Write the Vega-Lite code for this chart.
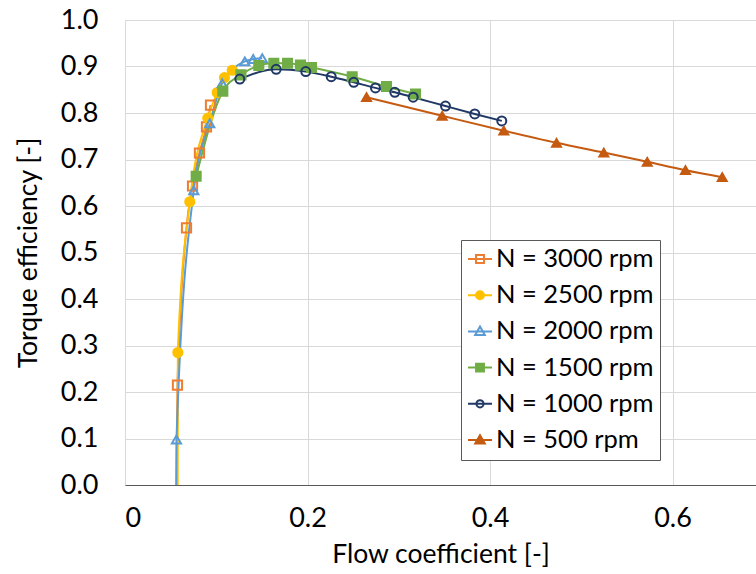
{
  "$schema": "https://vega.github.io/schema/vega-lite/v6.json",
  "autosize": {"type": "none"},
  "padding": {"left": 125, "top": 20, "right": 0, "bottom": 89},
  "width": 631,
  "height": 465,
  "background": "white",
  "config": {
    "view": {"stroke": null},
    "font": "Lato",
    "axis": {"labelFont": "Lato", "titleFont": "Lato", "labelColor": "#000000", "titleColor": "#000000", "titleFontWeight": "normal"},
    "legend": {"labelFont": "Lato"}
  },
  "data": {
    "values": [
      {"s": "N = 3000 rpm", "x": 0.0555, "y": -0.2},
      {"s": "N = 3000 rpm", "x": 0.0575, "y": 0.215},
      {"s": "N = 3000 rpm", "x": 0.0674, "y": 0.553},
      {"s": "N = 3000 rpm", "x": 0.0740, "y": 0.643},
      {"s": "N = 3000 rpm", "x": 0.0816, "y": 0.714},
      {"s": "N = 3000 rpm", "x": 0.0893, "y": 0.770},
      {"s": "N = 3000 rpm", "x": 0.0937, "y": 0.817},
      {"s": "N = 2500 rpm", "x": 0.0577, "y": -0.2},
      {"s": "N = 2500 rpm", "x": 0.0579, "y": 0.285},
      {"s": "N = 2500 rpm", "x": 0.0710, "y": 0.609},
      {"s": "N = 2500 rpm", "x": 0.0907, "y": 0.789},
      {"s": "N = 2500 rpm", "x": 0.1010, "y": 0.844},
      {"s": "N = 2500 rpm", "x": 0.1090, "y": 0.876},
      {"s": "N = 2500 rpm", "x": 0.1175, "y": 0.892},
      {"s": "N = 2000 rpm", "x": 0.0558, "y": -0.2},
      {"s": "N = 2000 rpm", "x": 0.0564, "y": 0.098},
      {"s": "N = 2000 rpm", "x": 0.0754, "y": 0.634},
      {"s": "N = 2000 rpm", "x": 0.0929, "y": 0.778},
      {"s": "N = 2000 rpm", "x": 0.1065, "y": 0.864},
      {"s": "N = 2000 rpm", "x": 0.1313, "y": 0.911},
      {"s": "N = 2000 rpm", "x": 0.1405, "y": 0.916},
      {"s": "N = 2000 rpm", "x": 0.1504, "y": 0.918},
      {"s": "N = 1500 rpm", "x": 0.0780, "y": 0.664},
      {"s": "N = 1500 rpm", "x": 0.1072, "y": 0.847},
      {"s": "N = 1500 rpm", "x": 0.1271, "y": 0.882},
      {"s": "N = 1500 rpm", "x": 0.1466, "y": 0.902},
      {"s": "N = 1500 rpm", "x": 0.1631, "y": 0.907},
      {"s": "N = 1500 rpm", "x": 0.1781, "y": 0.907},
      {"s": "N = 1500 rpm", "x": 0.1923, "y": 0.903},
      {"s": "N = 1500 rpm", "x": 0.2044, "y": 0.898},
      {"s": "N = 1500 rpm", "x": 0.2490, "y": 0.878},
      {"s": "N = 1500 rpm", "x": 0.2866, "y": 0.857},
      {"s": "N = 1500 rpm", "x": 0.3184, "y": 0.841},
      {"s": "N = 1000 rpm", "x": 0.1258, "y": 0.873},
      {"s": "N = 1000 rpm", "x": 0.1657, "y": 0.894},
      {"s": "N = 1000 rpm", "x": 0.1981, "y": 0.889},
      {"s": "N = 1000 rpm", "x": 0.2260, "y": 0.878},
      {"s": "N = 1000 rpm", "x": 0.2507, "y": 0.866},
      {"s": "N = 1000 rpm", "x": 0.2745, "y": 0.854},
      {"s": "N = 1000 rpm", "x": 0.2957, "y": 0.8445},
      {"s": "N = 1000 rpm", "x": 0.3158, "y": 0.834},
      {"s": "N = 1000 rpm", "x": 0.3512, "y": 0.815},
      {"s": "N = 1000 rpm", "x": 0.3833, "y": 0.798},
      {"s": "N = 1000 rpm", "x": 0.4129, "y": 0.783},
      {"s": "N = 500 rpm", "x": 0.2647, "y": 0.834},
      {"s": "N = 500 rpm", "x": 0.3476, "y": 0.794},
      {"s": "N = 500 rpm", "x": 0.4151, "y": 0.762},
      {"s": "N = 500 rpm", "x": 0.4729, "y": 0.736},
      {"s": "N = 500 rpm", "x": 0.5247, "y": 0.715},
      {"s": "N = 500 rpm", "x": 0.5723, "y": 0.695},
      {"s": "N = 500 rpm", "x": 0.6142, "y": 0.677},
      {"s": "N = 500 rpm", "x": 0.6545, "y": 0.662}
    ]
  },
  "encoding": {
    "x": {
      "field": "x", "type": "quantitative",
      "scale": {"domain": [0, 0.6915], "nice": false, "zero": false},
      "axis": {
        "title": "Flow coefficient [-]",
        "values": [0, 0.2, 0.4, 0.6],
        "labelExpr": "datum.value == 0 ? '0' : format(datum.value, '.1f')",
        "grid": true, "gridColor": "#d9d9d9", "gridWidth": 1,
        "ticks": false, "tickSize": 0,
        "domain": true, "domainColor": "#595959", "domainWidth": 1,
        "labelFontSize": 27, "labelPadding": 20,
        "titleFontSize": 26.5, "titlePadding": 10
      }
    },
    "y": {
      "field": "y", "type": "quantitative",
      "scale": {"domain": [0, 1], "nice": false, "zero": false},
      "axis": {
        "title": "Torque efficiency [-]",
        "values": [0, 0.1, 0.2, 0.3, 0.4, 0.5, 0.6, 0.7, 0.8, 0.9, 1.0],
        "format": ".1f",
        "grid": true, "gridColor": "#d9d9d9", "gridWidth": 1,
        "ticks": false, "tickSize": 0,
        "domain": false,
        "labelFontSize": 27, "labelPadding": 27,
        "titleFontSize": 26.5, "titlePadding": 18
      }
    }
  },
  "layer": [
    {
      "mark": {"type": "line", "strokeWidth": 2, "interpolate": "monotone", "clip": true},
      "encoding": {
        "detail": {"field": "s"},
        "stroke": {
          "field": "s", "type": "nominal", "legend": null,
          "scale": {
            "domain": ["N = 3000 rpm", "N = 2500 rpm", "N = 2000 rpm", "N = 1500 rpm", "N = 1000 rpm", "N = 500 rpm"],
            "range": ["#ED7D31", "#FFC000", "#5B9BD5", "#70AD47", "#1F3864", "#C55A11"]
          }
        },
        "order": {"field": "x", "type": "quantitative"}
      }
    },
    {
      "mark": {"type": "point", "strokeWidth": 2, "opacity": 1, "clip": true},
      "encoding": {
        "stroke": {
          "field": "s", "type": "nominal", "legend": null,
          "scale": {
            "domain": ["N = 3000 rpm", "N = 2500 rpm", "N = 2000 rpm", "N = 1500 rpm", "N = 1000 rpm", "N = 500 rpm"],
            "range": ["#ED7D31", "#FFC000", "#5B9BD5", "#70AD47", "#1F3864", "#C55A11"]
          }
        },
        "fill": {
          "field": "s", "type": "nominal", "legend": null,
          "scale": {
            "domain": ["N = 3000 rpm", "N = 2500 rpm", "N = 2000 rpm", "N = 1500 rpm", "N = 1000 rpm", "N = 500 rpm"],
            "range": ["transparent", "#FFC000", "transparent", "#70AD47", "transparent", "#C55A11"]
          }
        },
        "shape": {
          "field": "s", "type": "nominal", "legend": null,
          "scale": {
            "domain": ["N = 3000 rpm", "N = 2500 rpm", "N = 2000 rpm", "N = 1500 rpm", "N = 1000 rpm", "N = 500 rpm"],
            "range": ["square", "circle", "triangle-up", "square", "circle", "triangle-up"]
          }
        },
        "size": {
          "field": "s", "type": "nominal", "legend": null,
          "scale": {
            "domain": ["N = 3000 rpm", "N = 2500 rpm", "N = 2000 rpm", "N = 1500 rpm", "N = 1000 rpm", "N = 500 rpm"],
            "range": [85, 80, 115, 90, 100, 125]
          }
        }
      }
    },
    {
      "transform": [{"filter": "datum.y > 5"}],
      "mark": {"type": "point", "strokeWidth": 2, "opacity": 1},
      "encoding": {
        "stroke": {
          "field": "s", "type": "nominal",
          "scale": {
            "domain": ["N = 3000 rpm", "N = 2500 rpm", "N = 2000 rpm", "N = 1500 rpm", "N = 1000 rpm", "N = 500 rpm"],
            "range": ["#ED7D31", "#FFC000", "#5B9BD5", "#70AD47", "#1F3864", "#C55A11"]
          },
          "legend": null
        },
        "fill": {
          "field": "s", "type": "nominal",
          "scale": {
            "domain": ["N = 3000 rpm", "N = 2500 rpm", "N = 2000 rpm", "N = 1500 rpm", "N = 1000 rpm", "N = 500 rpm"],
            "range": ["transparent", "#FFC000", "transparent", "#70AD47", "transparent", "#C55A11"]
          },
          "legend": null
        },
        "shape": {
          "field": "s", "type": "nominal",
          "scale": {
            "domain": ["N = 3000 rpm", "N = 2500 rpm", "N = 2000 rpm", "N = 1500 rpm", "N = 1000 rpm", "N = 500 rpm"],
            "range": [
              "M-1,0H1M-0.33,-0.33H0.33V0.33H-0.33Z",
              "M-1,0H1M-0.33,0A0.33,0.33 0 1,0 0.33,0A0.33,0.33 0 1,0 -0.33,0Z",
              "M-1,0H1M0,-0.4L0.4,0.3L-0.4,0.3Z",
              "M-1,0H1M-0.33,-0.33H0.33V0.33H-0.33Z",
              "M-1,0H1M-0.3,0A0.3,0.3 0 1,0 0.3,0A0.3,0.3 0 1,0 -0.3,0Z",
              "M-1,0H1M0,-0.4L0.4,0.3L-0.4,0.3Z"
            ]
          },
          "legend": {
            "title": null,
            "orient": "none",
            "legendX": 336,
            "legendY": 220,
            "direction": "vertical",
            "fillColor": "white",
            "strokeColor": "#595959",
            "padding": 6,
            "symbolSize": 576,
            "symbolStrokeWidth": 2,
            "symbolOpacity": 1,
            "labelFontSize": 25.5,
            "labelColor": "#000000",
            "labelOffset": 3,
            "rowPadding": 9.2,
            "labelLimit": 400,
            "labelExpr": "datum.label + '  '",
            "encode": {
              "symbols": {
                "update": {
                  "stroke": {"signal": "({'N = 3000 rpm':'#ED7D31','N = 2500 rpm':'#FFC000','N = 2000 rpm':'#5B9BD5','N = 1500 rpm':'#70AD47','N = 1000 rpm':'#1F3864','N = 500 rpm':'#C55A11'})[datum.value]"},
                  "fill": {"signal": "({'N = 3000 rpm':'transparent','N = 2500 rpm':'#FFC000','N = 2000 rpm':'transparent','N = 1500 rpm':'#70AD47','N = 1000 rpm':'transparent','N = 500 rpm':'#C55A11'})[datum.value]"},
                  "opacity": {"value": 1},
                  "strokeWidth": {"value": 2}
                }
              }
            }
          }
        }
      }
    }
  ],
  "resolve": {
    "scale": {"shape": "independent", "stroke": "independent", "fill": "independent", "size": "independent"},
    "legend": {"shape": "independent", "stroke": "independent", "fill": "independent", "size": "independent"}
  }
}
